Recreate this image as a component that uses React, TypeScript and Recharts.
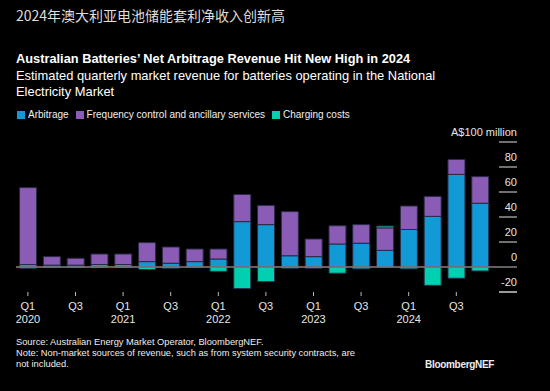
import React from "react";
import { BarChart, Bar, XAxis, YAxis, ReferenceLine } from "recharts";

const quarters = [
  "Q1", "Q2", "Q3", "Q4", "Q1", "Q2", "Q3", "Q4", "Q1", "Q2",
  "Q3", "Q4", "Q1", "Q2", "Q3", "Q4", "Q1", "Q2", "Q3", "Q4",
];
const years = [
  "2020", "2020", "2020", "2020", "2021", "2021", "2021", "2021", "2022", "2022",
  "2022", "2022", "2023", "2023", "2023", "2023", "2024", "2024", "2024", "2024",
];
// A$ million
const arbitrage = [2, 1.5, 1.5, 2, 2, 4.3, 3, 4.3, 6.4, 36.3, 33.9, 9, 8.3, 18.4, 19, 13.3, 30, 40.5, 74.1, 51];
const fcas = [61.5, 6.8, 5.5, 8.4, 8.4, 15.2, 13, 10.1, 8, 21.7, 15.4, 35.3, 14.1, 14.6, 14.9, 18, 18.8, 16, 12, 21.3];
const charging = [-1, -0.5, -0.5, -0.5, -0.5, -2, -1, -0.5, -3.5, -17.3, -11.7, -1, -1, -5, -1.5, 1.5, -1.5, -14.7, -9, -3.2];
const yTicks = [-20, 0, 20, 40, 60, 80, 100];

const data = quarters.map((q, i) => ({
  name: q + " " + years[i],
  arbitrage: arbitrage[i],
  fcas: fcas[i],
  charging: charging[i],
}));

const FONT = "'Liberation Sans', Arial, sans-serif";

const XTick = (props: any) => {
  const { x, y, payload } = props;
  const [q, yr] = String(payload.value).split(" ");
  if (q !== "Q1" && q !== "Q3") return null;
  return (
    <g>
      <line x1={x} x2={x} y1={y} y2={y + 4} stroke="#bbbbbb" strokeWidth={1} />
      <text x={x} y={y + 18} textAnchor="middle" fill="#e6e6e6" fontSize={11} fontFamily={FONT}>
        {q}
      </text>
      {q === "Q1" && (
        <text x={x} y={y + 31} textAnchor="middle" fill="#e6e6e6" fontSize={11} fontFamily={FONT}>
          {yr}
        </text>
      )}
    </g>
  );
};

const YTick = (props: any) => {
  const { x, y, payload } = props;
  const v = payload.value;
  const label = v === 100 ? "A$100 million" : String(v);
  return (
    <g>
      {v !== 0 && (
        <line x1={x + 7} x2={x + 25} y1={y} y2={y} stroke={v === -20 ? "#ffffff" : "#bbbbbb"} strokeWidth={1.2} />
      )}
      {v === 0 && <line x1={x} x2={x + 25} y1={y} y2={y} stroke="#808080" strokeWidth={1.5} />}
      <text x={x + 25} y={y - 6} textAnchor="end" fill="#e6e6e6" fontSize={11} fontFamily={FONT}>
        {label}
      </text>
    </g>
  );
};

const legendItems = [
  { label: "Arbitrage", color: "#129ad6" },
  { label: "Frequency control and ancillary services", color: "#8a5cb5" },
  { label: "Charging costs", color: "#00cfb0" },
];

export default function App() {
  return (
    <div
      style={{
        position: "fixed",
        left: 0,
        top: 0,
        width: 550,
        height: 391,
        background: "#000",
        fontFamily: FONT,
        color: "#fff",
        overflow: "hidden",
      }}
    >
      <div style={{ position: "absolute", left: 16, top: 5, fontSize: 14, color: "#dddddd", fontFamily: "'Noto Sans CJK SC', sans-serif" }}>
        2024年澳大利亚电池储能套利净收入创新高
      </div>
      <div style={{ position: "absolute", left: 16, top: 51, fontSize: 12.8, fontWeight: "bold", whiteSpace: "nowrap" }}>
        Australian Batteries’ Net Arbitrage Revenue Hit New High in 2024
      </div>
      <div style={{ position: "absolute", left: 16, top: 68, fontSize: 12.9, lineHeight: "16px", whiteSpace: "nowrap" }}>
        Estimated quarterly market revenue for batteries operating in the National
        <br />
        Electricity Market
      </div>
      <div style={{ position: "absolute", left: 17, top: 109, display: "flex", fontSize: 10, lineHeight: "12px", color: "#f0f0f0" }}>
        {legendItems.map((it) => (
          <div key={it.label} style={{ display: "flex", alignItems: "center", marginRight: 7 }}>
            <span style={{ display: "inline-block", width: 8, height: 8, background: it.color, marginRight: 3 }} />
            <span>{it.label}</span>
          </div>
        ))}
      </div>

      <div style={{ position: "absolute", left: 0, top: 0 }}>
        <BarChart
          width={550}
          height={391}
          data={data}
          stackOffset="sign"
          barCategoryGap="15%"
          margin={{ top: 142, right: 33, bottom: 49, left: 16 }}
        >
          <XAxis
            dataKey="name"
            interval={0}
            axisLine={false}
            tickLine={false}
            tickSize={0}
            tickMargin={0}
            height={50}
            tick={<XTick />}
          />
          <YAxis
            orientation="right"
            domain={[-20, 100]}
            ticks={yTicks}
            axisLine={false}
            tickLine={false}
            tickSize={0}
            tickMargin={0}
            width={25}
            tick={<YTick />}
          />
          <Bar dataKey="arbitrage" stackId="a" fill="#129ad6" stroke="#2a2a45" strokeWidth={1} isAnimationActive={false} />
          <Bar dataKey="fcas" stackId="a" fill="#8a5cb5" stroke="#2a2a45" strokeWidth={1} isAnimationActive={false} />
          <Bar dataKey="charging" stackId="a" fill="#00cfb0" stroke="#2a2a45" strokeWidth={1} isAnimationActive={false} />
          <ReferenceLine y={0} stroke="#808080" strokeWidth={1.5} />
        </BarChart>
      </div>

      <div style={{ position: "absolute", left: 16, top: 337, fontSize: 9.3, lineHeight: "11px", color: "#eeeeee", whiteSpace: "nowrap" }}>
        Source: Australian Energy Market Operator, BloombergNEF.
        <br />
        Note: Non-market sources of revenue, such as from system security contracts, are
        <br />
        not included.
      </div>
      <div style={{ position: "absolute", left: 425, top: 359, fontSize: 10, fontWeight: "bold", color: "#eeeeee", letterSpacing: -0.3 }}>
        BloombergNEF
      </div>
    </div>
  );
}
